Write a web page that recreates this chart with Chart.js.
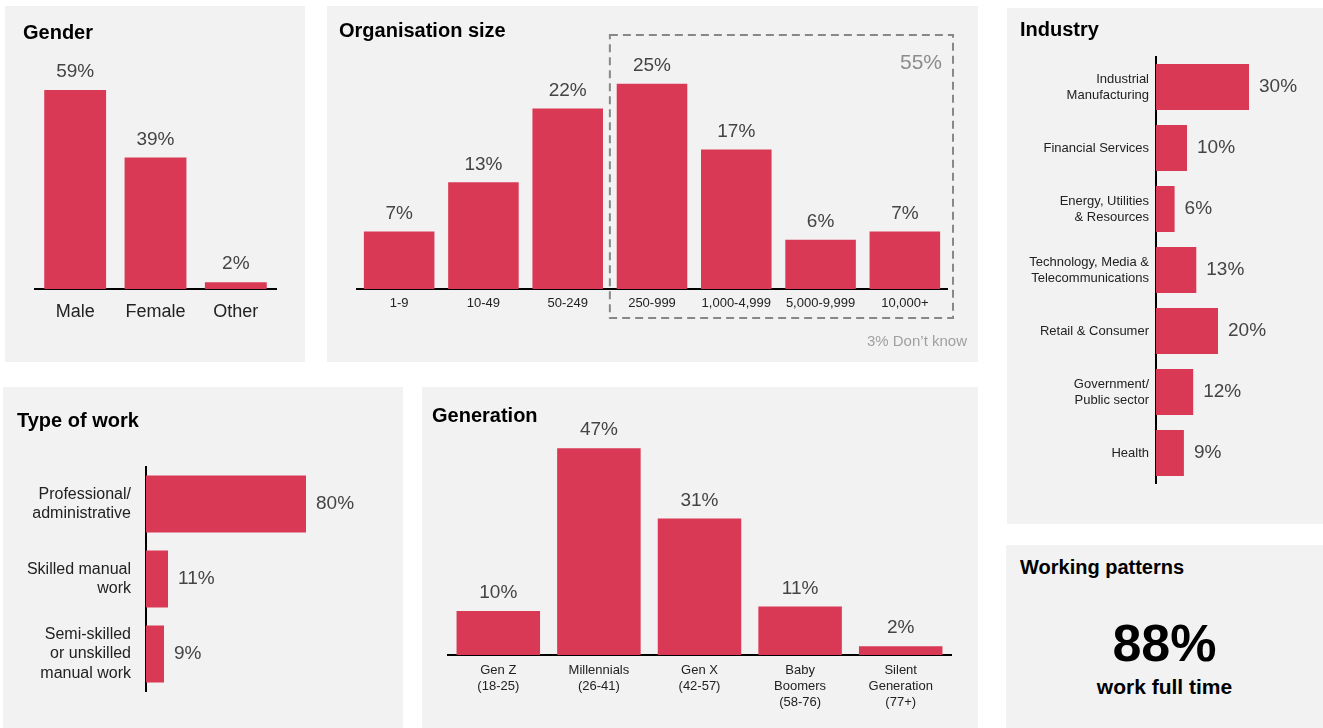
<!DOCTYPE html>
<html>
<head>
<meta charset="utf-8">
<title>Respondent profile</title>
<script src="https://cdn.jsdelivr.net/npm/chart.js@4.4.0/dist/chart.umd.min.js"></script>
<style>
  body { margin: 0; background: #fff; font-family: "Liberation Sans", Arial, sans-serif; }
  #page { position: relative; width: 1323px; height: 728px; overflow: hidden; }
  .panel { position: absolute; background: #f2f2f2; }
  .panel canvas { position: absolute; left: 0; top: 0; }
  .title { position: absolute; font-weight: bold; font-size: 20px; line-height: 24px; color: #000; white-space: nowrap; z-index: 2; }
  .note { position: absolute; white-space: nowrap; z-index: 2; }
</style>
</head>
<body>
<div id="page">
  <div class="panel" style="left:5px;top:6px;width:300px;height:356px">
    <canvas id="gender" width="300" height="356"></canvas>
    <div class="title" style="left:18px;top:14px">Gender</div>
  </div>
  <div class="panel" style="left:327px;top:6px;width:651px;height:356px">
    <canvas id="orgSize" width="651" height="356"></canvas>
    <div class="title" style="left:12px;top:12px">Organisation size</div>
    <div class="note" id="bracketTotal" style="right:36px;top:44px;font-size:21px;line-height:24px;color:#8c8c8c"></div>
    <div class="note" id="dontKnow" style="right:11px;top:326px;font-size:15px;line-height:18px;color:#a0a0a0"></div>
  </div>
  <div class="panel" style="left:1007px;top:8px;width:316px;height:516px">
    <canvas id="industry" width="316" height="516"></canvas>
    <div class="title" style="left:13px;top:9px">Industry</div>
  </div>
  <div class="panel" style="left:3px;top:387px;width:400px;height:341px">
    <canvas id="work" width="400" height="341"></canvas>
    <div class="title" style="left:14px;top:21px">Type of work</div>
  </div>
  <div class="panel" style="left:422px;top:387px;width:556px;height:341px">
    <canvas id="generation" width="556" height="341"></canvas>
    <div class="title" style="left:10px;top:16px">Generation</div>
  </div>
  <div class="panel" style="left:1006px;top:545px;width:317px;height:183px">
    <div class="title" style="left:14px;top:10px">Working patterns</div>
    <div id="fullTime" style="position:absolute;left:0;width:317px;top:68px;text-align:center;font-weight:bold;font-size:52px;line-height:60px;color:#000"></div>
    <div style="position:absolute;left:0;width:317px;top:130px;text-align:center;font-weight:bold;font-size:21px;line-height:24px;color:#000">work full time</div>
  </div>
</div>

<script>
// survey values, all in percent
const genderLabels = ["Male", "Female", "Other"];
const genderValues = [59, 39, 2];

const orgLabels = ["1-9", "10-49", "50-249", "250-999", "1,000-4,999", "5,000-9,999", "10,000+"];
const orgValues = [7, 13, 22, 25, 17, 6, 7];
const orgBracketFrom = 3; // 250+ employees are grouped in the dashed box

const industryLabels = [
  ["Industrial", "Manufacturing"],
  "Financial Services",
  ["Energy, Utilities", "& Resources"],
  ["Technology, Media &", "Telecommunications"],
  "Retail & Consumer",
  ["Government/", "Public sector"],
  "Health",
];
const industryValues = [30, 10, 6, 13, 20, 12, 9];

const workLabels = [
  ["Professional/", "administrative"],
  ["Skilled manual", "work"],
  ["Semi-skilled", "or unskilled", "manual work"],
];
const workValues = [80, 11, 9];

const generationLabels = [
  ["Gen Z", "(18-25)"],
  ["Millennials", "(26-41)"],
  ["Gen X", "(42-57)"],
  ["Baby", "Boomers", "(58-76)"],
  ["Silent", "Generation", "(77+)"],
];
const generationValues = [10, 47, 31, 11, 2];

const fullTimeShare = 88;

Chart.defaults.font.family = "'Liberation Sans', Arial, sans-serif";

// draws "xx%" next to each bar
const valueLabels = {
  id: "valueLabels",
  afterDatasetsDraw(chart) {
    const ctx = chart.ctx;
    const horizontal = chart.options.indexAxis === "y";
    const values = chart.data.datasets[0].data;
    ctx.save();
    ctx.font = "19px 'Liberation Sans', Arial, sans-serif";
    ctx.fillStyle = "#444";
    ctx.textBaseline = "middle";
    chart.getDatasetMeta(0).data.forEach((bar, i) => {
      const text = values[i] + "%";
      if (horizontal) {
        ctx.textAlign = "left";
        ctx.fillText(text, bar.x + 10, bar.y);
      } else {
        ctx.textAlign = "center";
        ctx.fillText(text, bar.x, bar.y - 18);
      }
    });
    ctx.restore();
  },
};

// dashed box round the larger organisations
const sizeBracket = {
  id: "sizeBracket",
  afterDraw(chart) {
    const { ctx, chartArea } = chart;
    const bars = chart.getDatasetMeta(0).data;
    const step = bars[1].x - bars[0].x;
    const left = (bars[orgBracketFrom - 1].x + bars[orgBracketFrom].x) / 2;
    const right = bars[bars.length - 1].x + step / 2 + 6;
    ctx.save();
    ctx.setLineDash([8, 5]);
    ctx.strokeStyle = "#888";
    ctx.lineWidth = 2;
    ctx.strokeRect(left, 29, right - left, chartArea.bottom);
    ctx.restore();
  },
};

function barChart(id, labels, values, cfg) {
  const horizontal = !!cfg.horizontal;
  const catAxis = {
    type: "category",
    position: horizontal ? "left" : "bottom",
    grid: { display: false, drawTicks: false },
    border: { display: true, color: "#000", width: 2 },
    ticks: {
      color: "#222",
      font: cfg.font,
      padding: cfg.tickPadding,
      autoSkip: false,
      maxRotation: 0,
    },
    afterFit: (s) => {
      if (horizontal) s.width = cfg.axisSize;
      else s.height = cfg.axisSize;
    },
  };
  const valAxis = { display: false, min: 0, max: cfg.max };
  return new Chart(document.getElementById(id), {
    type: "bar",
    data: {
      labels: labels,
      datasets: [
        {
          data: values,
          backgroundColor: "#d93954",
          barPercentage: cfg.bar,
          categoryPercentage: 1,
        },
      ],
    },
    options: {
      indexAxis: horizontal ? "y" : "x",
      responsive: false,
      animation: false,
      layout: { padding: cfg.padding },
      plugins: { legend: { display: false }, tooltip: { enabled: false } },
      scales: horizontal ? { y: catAxis, x: valAxis } : { x: catAxis, y: valAxis },
    },
    plugins: [valueLabels].concat(cfg.extra || []),
  });
}

barChart("gender", genderLabels, genderValues, {
  max: 75, bar: 0.77, axisSize: 73, tickPadding: 12,
  font: { size: 18 },
  padding: { left: 30, right: 29, top: 30, bottom: 0 },
});

barChart("orgSize", orgLabels, orgValues, {
  max: 29, bar: 0.837, axisSize: 73, tickPadding: 7,
  font: { size: 13 },
  padding: { left: 30, right: 31, top: 45, bottom: 0 },
  extra: [sizeBracket],
});

barChart("industry", industryLabels, industryValues, {
  horizontal: true, max: 50, bar: 0.754, axisSize: 149, tickPadding: 7,
  font: { size: 13, lineHeight: 1.23 },
  padding: { left: 0, right: 12, top: 48.5, bottom: 40.5 },
});

barChart("work", workLabels, workValues, {
  horizontal: true, max: 115, bar: 0.76, axisSize: 143, tickPadding: 15,
  font: { size: 16, lineHeight: 1.2 },
  padding: { left: 0, right: 27, top: 79.5, bottom: 36.5 },
});

barChart("generation", generationLabels, generationValues, {
  max: 55, bar: 0.83, axisSize: 73, tickPadding: 7,
  font: { size: 13, lineHeight: 1.23 },
  padding: { left: 26, right: 27, top: 26, bottom: 0 },
});

// texts worked out from the data
const bracketSum = orgValues.slice(orgBracketFrom).reduce((a, b) => a + b, 0);
const orgTotal = orgValues.reduce((a, b) => a + b, 0);
document.getElementById("bracketTotal").textContent = bracketSum + "%";
document.getElementById("dontKnow").textContent = (100 - orgTotal) + "% Don\u2019t know";
document.getElementById("fullTime").textContent = fullTimeShare + "%";
</script>
</body>
</html>
